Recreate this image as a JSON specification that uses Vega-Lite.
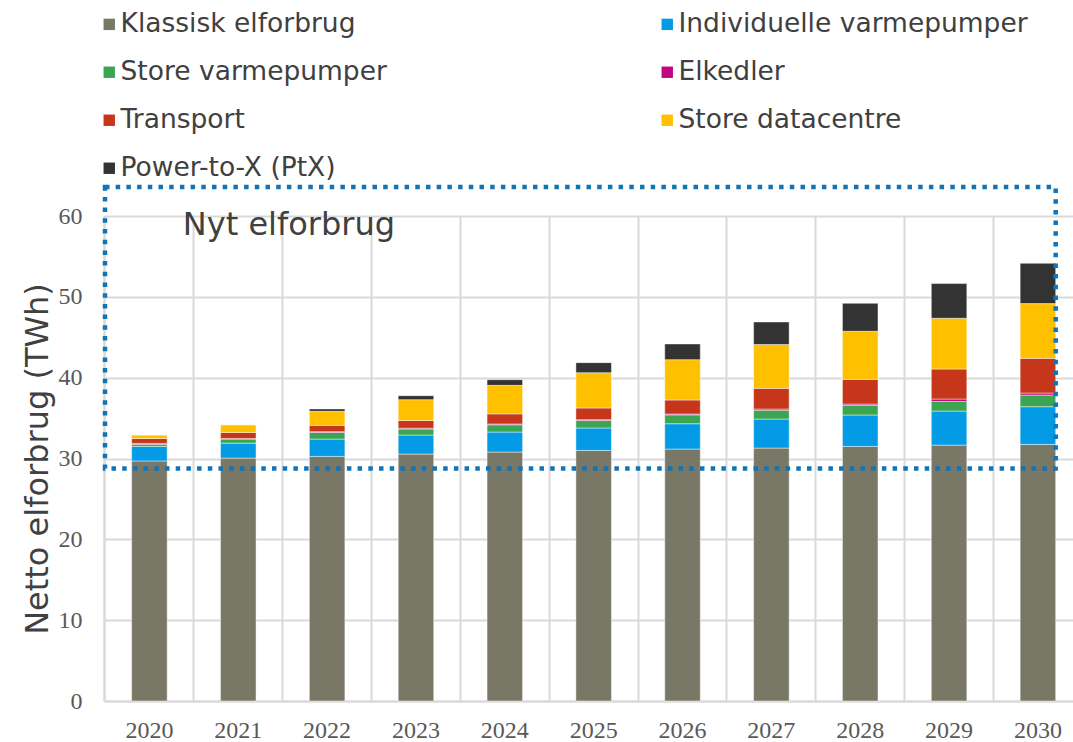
{
  "$schema": "https://vega.github.io/schema/vega-lite/v6.json",
  "autosize": {"type": "none"},
  "padding": {"left": 104, "top": 216, "right": 0, "bottom": 41},
  "width": 969,
  "height": 485,
  "background": "#ffffff",
  "config": {"view": {"stroke": null}},
  "datasets": {
    "bars": [
      {"year": "2020", "cat": "Klassisk elforbrug", "o": 1, "v": 29.7},
      {"year": "2020", "cat": "Individuelle varmepumper", "o": 2, "v": 1.8},
      {"year": "2020", "cat": "Store varmepumper", "o": 3, "v": 0.25},
      {"year": "2020", "cat": "Elkedler", "o": 4, "v": 0.12},
      {"year": "2020", "cat": "Transport", "o": 5, "v": 0.6},
      {"year": "2020", "cat": "Store datacentre", "o": 6, "v": 0.45},
      {"year": "2020", "cat": "Power-to-X (PtX)", "o": 7, "v": 0},
      {"year": "2021", "cat": "Klassisk elforbrug", "o": 1, "v": 30.05},
      {"year": "2021", "cat": "Individuelle varmepumper", "o": 2, "v": 1.85},
      {"year": "2021", "cat": "Store varmepumper", "o": 3, "v": 0.5},
      {"year": "2021", "cat": "Elkedler", "o": 4, "v": 0.08},
      {"year": "2021", "cat": "Transport", "o": 5, "v": 0.75},
      {"year": "2021", "cat": "Store datacentre", "o": 6, "v": 0.95},
      {"year": "2021", "cat": "Power-to-X (PtX)", "o": 7, "v": 0},
      {"year": "2022", "cat": "Klassisk elforbrug", "o": 1, "v": 30.26},
      {"year": "2022", "cat": "Individuelle varmepumper", "o": 2, "v": 2.14},
      {"year": "2022", "cat": "Store varmepumper", "o": 3, "v": 0.82},
      {"year": "2022", "cat": "Elkedler", "o": 4, "v": 0.1},
      {"year": "2022", "cat": "Transport", "o": 5, "v": 0.78},
      {"year": "2022", "cat": "Store datacentre", "o": 6, "v": 1.73},
      {"year": "2022", "cat": "Power-to-X (PtX)", "o": 7, "v": 0.3},
      {"year": "2023", "cat": "Klassisk elforbrug", "o": 1, "v": 30.55},
      {"year": "2023", "cat": "Individuelle varmepumper", "o": 2, "v": 2.35},
      {"year": "2023", "cat": "Store varmepumper", "o": 3, "v": 0.75},
      {"year": "2023", "cat": "Elkedler", "o": 4, "v": 0.1},
      {"year": "2023", "cat": "Transport", "o": 5, "v": 0.96},
      {"year": "2023", "cat": "Store datacentre", "o": 6, "v": 2.57},
      {"year": "2023", "cat": "Power-to-X (PtX)", "o": 7, "v": 0.49},
      {"year": "2024", "cat": "Klassisk elforbrug", "o": 1, "v": 30.8},
      {"year": "2024", "cat": "Individuelle varmepumper", "o": 2, "v": 2.47},
      {"year": "2024", "cat": "Store varmepumper", "o": 3, "v": 0.9},
      {"year": "2024", "cat": "Elkedler", "o": 4, "v": 0.1},
      {"year": "2024", "cat": "Transport", "o": 5, "v": 1.25},
      {"year": "2024", "cat": "Store datacentre", "o": 6, "v": 3.53},
      {"year": "2024", "cat": "Power-to-X (PtX)", "o": 7, "v": 0.7},
      {"year": "2025", "cat": "Klassisk elforbrug", "o": 1, "v": 31.0},
      {"year": "2025", "cat": "Individuelle varmepumper", "o": 2, "v": 2.77},
      {"year": "2025", "cat": "Store varmepumper", "o": 3, "v": 0.93},
      {"year": "2025", "cat": "Elkedler", "o": 4, "v": 0.1},
      {"year": "2025", "cat": "Transport", "o": 5, "v": 1.45},
      {"year": "2025", "cat": "Store datacentre", "o": 6, "v": 4.37},
      {"year": "2025", "cat": "Power-to-X (PtX)", "o": 7, "v": 1.24},
      {"year": "2026", "cat": "Klassisk elforbrug", "o": 1, "v": 31.17},
      {"year": "2026", "cat": "Individuelle varmepumper", "o": 2, "v": 3.13},
      {"year": "2026", "cat": "Store varmepumper", "o": 3, "v": 1.1},
      {"year": "2026", "cat": "Elkedler", "o": 4, "v": 0.1},
      {"year": "2026", "cat": "Transport", "o": 5, "v": 1.74},
      {"year": "2026", "cat": "Store datacentre", "o": 6, "v": 4.99},
      {"year": "2026", "cat": "Power-to-X (PtX)", "o": 7, "v": 1.94},
      {"year": "2027", "cat": "Klassisk elforbrug", "o": 1, "v": 31.29},
      {"year": "2027", "cat": "Individuelle varmepumper", "o": 2, "v": 3.59},
      {"year": "2027", "cat": "Store varmepumper", "o": 3, "v": 1.09},
      {"year": "2027", "cat": "Elkedler", "o": 4, "v": 0.15},
      {"year": "2027", "cat": "Transport", "o": 5, "v": 2.56},
      {"year": "2027", "cat": "Store datacentre", "o": 6, "v": 5.41},
      {"year": "2027", "cat": "Power-to-X (PtX)", "o": 7, "v": 2.8},
      {"year": "2028", "cat": "Klassisk elforbrug", "o": 1, "v": 31.5},
      {"year": "2028", "cat": "Individuelle varmepumper", "o": 2, "v": 3.88},
      {"year": "2028", "cat": "Store varmepumper", "o": 3, "v": 1.21},
      {"year": "2028", "cat": "Elkedler", "o": 4, "v": 0.15},
      {"year": "2028", "cat": "Transport", "o": 5, "v": 3.05},
      {"year": "2028", "cat": "Store datacentre", "o": 6, "v": 5.95},
      {"year": "2028", "cat": "Power-to-X (PtX)", "o": 7, "v": 3.46},
      {"year": "2029", "cat": "Klassisk elforbrug", "o": 1, "v": 31.66},
      {"year": "2029", "cat": "Individuelle varmepumper", "o": 2, "v": 4.21},
      {"year": "2029", "cat": "Store varmepumper", "o": 3, "v": 1.19},
      {"year": "2029", "cat": "Elkedler", "o": 4, "v": 0.3},
      {"year": "2029", "cat": "Transport", "o": 5, "v": 3.71},
      {"year": "2029", "cat": "Store datacentre", "o": 6, "v": 6.28},
      {"year": "2029", "cat": "Power-to-X (PtX)", "o": 7, "v": 4.29},
      {"year": "2030", "cat": "Klassisk elforbrug", "o": 1, "v": 31.74},
      {"year": "2030", "cat": "Individuelle varmepumper", "o": 2, "v": 4.67},
      {"year": "2030", "cat": "Store varmepumper", "o": 3, "v": 1.44},
      {"year": "2030", "cat": "Elkedler", "o": 4, "v": 0.25},
      {"year": "2030", "cat": "Transport", "o": 5, "v": 4.29},
      {"year": "2030", "cat": "Store datacentre", "o": 6, "v": 6.77},
      {"year": "2030", "cat": "Power-to-X (PtX)", "o": 7, "v": 4.99}
    ],
    "box": [{"from": "2020", "to": "2030", "lo": 28.75, "hi": 63.6, "label": "Nyt elforbrug", "ly": 57.6}]
  },
  "layer": [
    {
      "data": {"name": "bars"},
      "mark": {"type": "bar", "stroke": "#ffffff", "strokeOpacity": 0.45, "strokeWidth": 1},
      "encoding": {
        "x": {
          "field": "year", "type": "ordinal", "title": null,
          "scale": {"paddingInner": 0.6, "paddingOuter": 0.253, "align": 0.615},
          "axis": {
            "labelAngle": 0, "labelFont": "Liberation Serif", "labelFontSize": 24,
            "labelColor": "#595959", "labelPadding": 17, "ticks": false,
            "domainColor": "#d9d9d9", "domainWidth": 2,
            "grid": true, "gridColor": "#d9d9d9", "gridWidth": 2, "bandPosition": -0.75
          }
        },
        "y": {
          "field": "v", "type": "quantitative", "stack": "zero",
          "title": "Netto elforbrug (TWh)",
          "scale": {"domain": [0, 60], "nice": false},
          "axis": {
            "values": [0, 10, 20, 30, 40, 50, 60],
            "labelFont": "Liberation Serif", "labelFontSize": 24, "labelColor": "#595959",
            "labelPadding": 22, "ticks": false,
            "domainColor": "#d9d9d9", "domainWidth": 2,
            "gridColor": "#d9d9d9", "gridWidth": 2,
            "titleFont": "DejaVu Sans", "titleFontSize": 32, "titleFontWeight": "normal",
            "titleColor": "#404040", "titlePadding": 4
          }
        },
        "order": {"field": "o", "type": "quantitative"},
        "color": {
          "field": "cat", "type": "nominal", "title": null,
          "scale": {
            "domain": ["Klassisk elforbrug", "Individuelle varmepumper", "Store varmepumper", "Elkedler", "Transport", "Store datacentre", "Power-to-X (PtX)"],
            "range": ["#797866", "#039BE5", "#3BA551", "#C0077F", "#C5361A", "#FFC000", "#333333"]
          },
          "legend": {
            "orient": "none", "legendX": -8, "legendY": -205, "direction": "horizontal", "columns": 2,
            "padding": 0,
            "symbolType": "square", "symbolSize": 130, "symbolStrokeWidth": 0,
            "labelFont": "DejaVu Sans", "labelFontSize": 26.5, "labelColor": "#404040",
            "labelOffset": -2, "labelLimit": 500, "rowPadding": 21, "columnPadding": 267
          }
        }
      }
    },
    {
      "data": {"name": "box"},
      "mark": {"type": "rect", "fill": null, "fillOpacity": 0, "stroke": "#1273B6", "strokeWidth": 4.5, "strokeDash": [4.5, 6.2]},
      "encoding": {
        "x": {"field": "from", "type": "ordinal", "bandPosition": -0.75},
        "x2": {"field": "to", "bandPosition": 1},
        "y": {"field": "lo", "type": "quantitative"},
        "y2": {"field": "hi"}
      }
    },
    {
      "data": {"name": "box"},
      "mark": {"type": "text", "font": "DejaVu Sans", "fontSize": 32, "color": "#404040", "align": "left", "baseline": "alphabetic"},
      "encoding": {
        "x": {"field": "from", "type": "ordinal", "bandPosition": 1.44},
        "y": {"field": "ly", "type": "quantitative"},
        "text": {"field": "label"}
      }
    }
  ]
}
